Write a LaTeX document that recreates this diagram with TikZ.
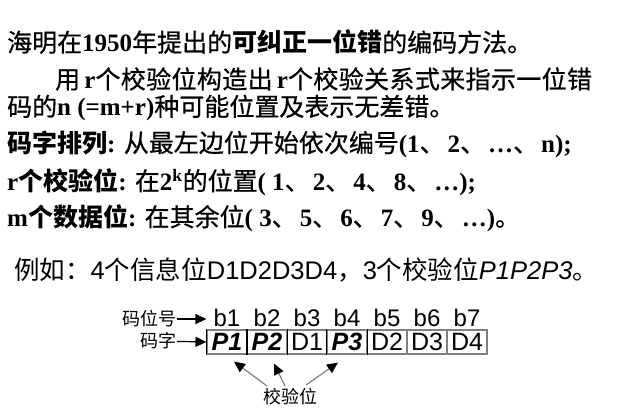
\documentclass[tikz,border=0pt]{standalone}
\usepackage{fontspec}
\setmainfont{Liberation Serif}
\newfontfamily\arial{Liberation Sans}
\newfontfamily\cjk{Noto Sans CJK SC}
\newfontfamily\cjkmid[FakeBold=0.6]{Noto Sans CJK SC}
\newfontfamily\cjkwide[LetterSpace=1.5,FakeBold=0.6]{Noto Sans CJK SC}
\newfontfamily\cjkbold{Noto Sans CJK SC Bold}
\usetikzlibrary{arrows.meta,calc}
\newcommand{\cn}[1]{{\cjkmid\mdseries #1}}
\newcommand{\cw}[1]{{\cjkwide\mdseries #1}}
\newcommand{\cb}[1]{{\cjkbold #1}}
\newcommand{\cs}[1]{{\cjk\mdseries #1}}
\newcommand{\dun}{\cn{、}\hspace{3pt}}

\begin{document}
\begin{tikzpicture}[x=1pt,y=-1pt,
  line/.style={anchor=west,inner sep=0pt,font=\fontsize{25}{28}\selectfont\bfseries},
  sline/.style={anchor=west,inner sep=0pt,font=\fontsize{25.5}{28}\selectfont\arial},
  cellbox/.style={draw=gray,line width=1.1pt,minimum width=40pt,minimum height=24pt,
    inner sep=0pt,font=\fontsize{25}{26}\selectfont\arial},
  bitno/.style={inner sep=0pt,font=\fontsize{24}{26}\selectfont\arial},
  tag/.style={inner sep=0pt,font=\fontsize{18}{20}\selectfont\cjk},
  pointer/.style={-{Triangle[length=11pt,width=10pt]},line width=1.2pt},
  chk/.style={gray,line width=1.2pt,-{Triangle[length=11pt,width=10pt,color=black]}}]
\useasboundingbox (0,0) rectangle (626,413);
% text lines
\node[line] (l1) at (7,42) {\cn{海明在}1950\cn{年提出的}\cb{可纠正一位错}\cn{的编码方法。}};
\node[line] (l2) at (55,79) {\cw{用}\,r\cw{个校验位构造出}\,r\cw{个校验关系式来指示一位错}};
\node[line] (l3) at (7,108) {\cn{码的}n (=m+r)\cn{种可能位置及表示无差错。}};
\node[line] (l4) at (7,144) {\cb{码字排列}: \cn{从最左边位开始依次编号}(1\dun 2\dun …\dun n);};
\node[line] (l5) at (7,182) {r\cb{个校验位}: \cn{在}2\textsuperscript{k}\cn{的位置}( 1\dun 2\dun 4\dun 8\dun …);};
\node[line] (l6) at (7,218) {m\cb{个数据位}: \cn{在其余位}( 3\dun 5\dun 6\dun 7\dun 9\dun …)\cn{。}};
\node[sline] (l7) at (14,270) {\cs{例如：}4\cs{个信息位}D1D2D3D4\cs{，}3\cs{个校验位}\textit{P1P2P3}\cs{。}};
% code word
\foreach \t [count=\i] in {\textbf{\textit{P1}},\textbf{\textit{P2}},D1,\textbf{\textit{P3}},D2,D3,D4}{
  \node[cellbox] (c\i) at ({187+40*\i},342) {\t};
  \node[bitno] (b\i) at ({187+40*\i},318) {b\i};
}
\foreach \i in {1,2,4}
  \draw[line width=1.1pt] (c\i.north west) -- (c\i.south west) (c\i.north east) -- (c\i.south east);
\node[tag,anchor=east] (pos) at (177,319) {码位号};
\node[tag,anchor=east] (word) at (177,341) {码字};
\draw[pointer] (pos) -- (c1.west |- pos);
\draw[pointer] (word) -- (c1.west);
\node[tag] (jy) at (290,397) {校验位};
\draw[chk] ($(jy)+(-23,-11)$) -- ($(c1.south)+(7,7)$);
\draw[chk] ($(jy)+(-5,-11)$) -- ($(c2.south)+(7,9)$);
\draw[chk] ($(jy)+(16,-12)$) -- ($(c4.south)+(-9,8)$);
\end{tikzpicture}
\end{document}
